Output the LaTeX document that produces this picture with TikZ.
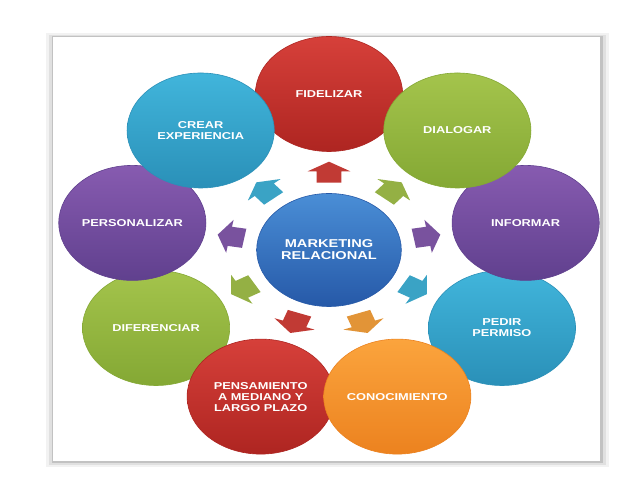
\documentclass[tikz,border=0pt]{standalone}
\usepackage{fontspec}
\setmainfont{Liberation Sans}
\usepackage{tikz}
\usetikzlibrary{shapes.arrows}
\definecolor{rojoA}{HTML}{D6403A}
\definecolor{rojoB}{HTML}{AE2521}
\definecolor{verdeA}{HTML}{A4C44C}
\definecolor{verdeB}{HTML}{84A834}
\definecolor{moradoA}{HTML}{875BB0}
\definecolor{moradoB}{HTML}{60408E}
\definecolor{celesteA}{HTML}{41B5DB}
\definecolor{celesteB}{HTML}{2A90B8}
\definecolor{naranjaA}{HTML}{FBA43D}
\definecolor{naranjaB}{HTML}{EC821F}
\definecolor{azulA}{HTML}{4A8ED6}
\definecolor{azulB}{HTML}{2659A8}
\tikzset{
	bola/.style 2 args={circle,minimum size=115pt,inner sep=0pt,top color=#1,bottom color=#2,draw=#2,line width=0.6pt,text=white,align=center,font=\bfseries\fontsize{10}{11}\selectfont},
	flecha/.style={single arrow,minimum height=21pt,inner xsep=0pt,inner ysep=9.5pt,single arrow head extend=7pt,single arrow tip angle=120,fill=#1}
}

\begin{document}
\begin{tikzpicture}[x=1pt,y=1pt]
	\useasboundingbox (0,0) rectangle (638,479);
	% marco con sombra
	\fill[black!5] (46,12) rectangle (609,446);
	\fill[black!12] (49,14) rectangle (606,444);
	\fill[black!24] (52,16) rectangle (603,443);
	\fill[white] (53,18) rectangle (600,442);

	\begin{scope}[shift={(329,229)},xscale=1.28,transform shape]
		\node [bola={rojoA}{rojoB}] (fid) at (90:156) {FIDELIZAR};
		\node [bola={celesteA}{celesteB}] (ped) at (-30:156) {PEDIR\\PERMISO};
		\node [bola={verdeA}{verdeB}] (dif) at (-150:156) {DIFERENCIAR};
		\node [bola={rojoA}{rojoB}] (pen) at (-110:156) {PENSAMIENTO\\A MEDIANO Y\\LARGO PLAZO};
		\node [bola={naranjaA}{naranjaB}] (con) at (-70:156) {CONOCIMIENTO};
		\node [bola={moradoA}{moradoB}] (inf) at (10:156) {INFORMAR};
		\node [bola={verdeA}{verdeB}] (dia) at (50:156) {DIALOGAR};
		\node [bola={moradoA}{moradoB}] (per) at (170:156) {PERSONALIZAR};
		\node [bola={celesteA}{celesteB}] (cre) at (130:156) {CREAR\\EXPERIENCIA};

		\node [bola={azulA}{azulB},minimum size=113pt,font=\bfseries\fontsize{11.4}{12}\selectfont] (mkt) at (0,0) {MARKETING\\RELACIONAL};

		\node [flecha=rojoA!90!black,rotate=90] (f1) at (90:75) {};
		\node [flecha=verdeA!90!black,rotate=50] (f2) at (50:75) {};
		\node [flecha=moradoA!90!black,rotate=10] (f3) at (10:75) {};
		\node [flecha=celesteA!90!black,rotate=-30] (f4) at (-30:75) {};
		\node [flecha=naranjaA!90!black,rotate=-70] (f5) at (-70:75) {};
		\node [flecha=rojoA!90!black,rotate=-110] (f6) at (-110:75) {};
		\node [flecha=verdeA!90!black,rotate=-150] (f7) at (-150:75) {};
		\node [flecha=moradoA!90!black,rotate=170] (f8) at (170:75) {};
		\node [flecha=celesteA!90!black,rotate=130] (f9) at (130:75) {};
	\end{scope}
\end{tikzpicture}
\end{document}
